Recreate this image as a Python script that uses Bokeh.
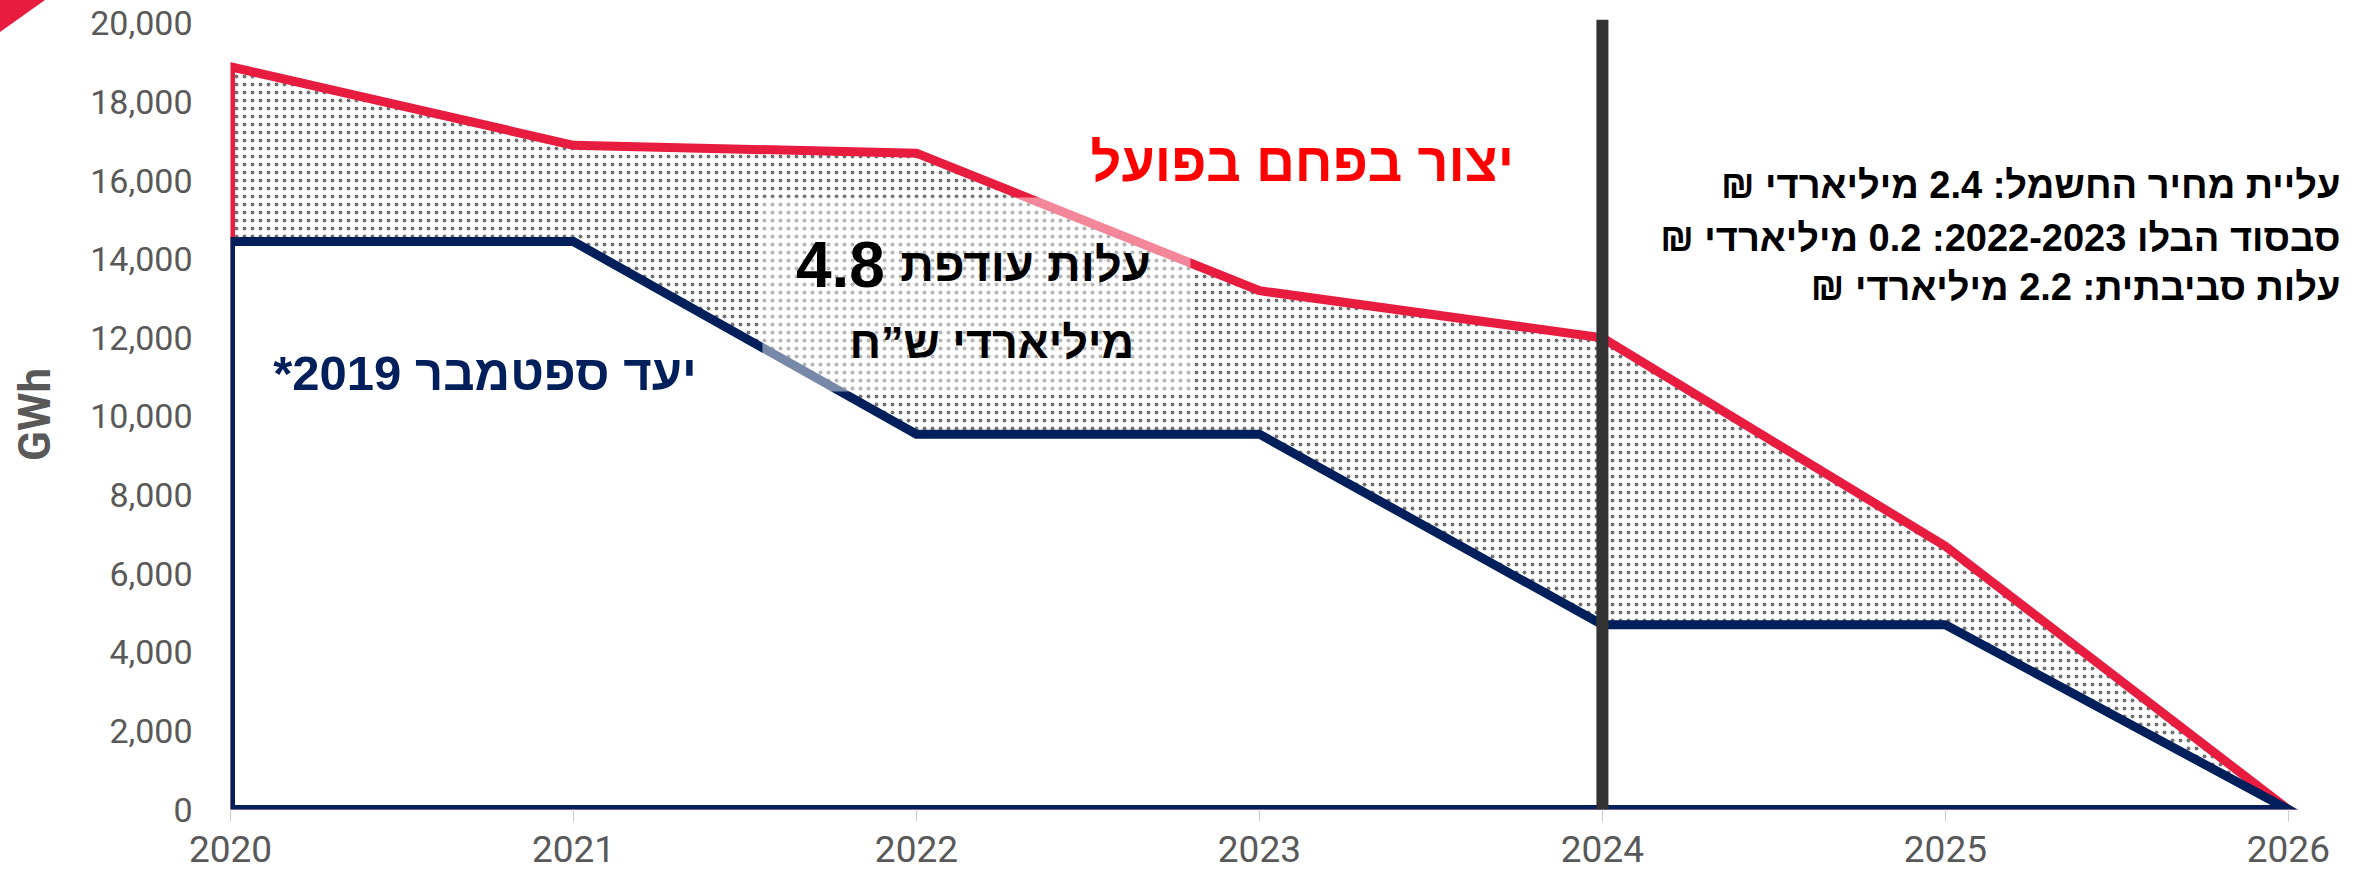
from bokeh.plotting import figure
from bokeh.models import (Range1d, FixedTicker, NumeralTickFormatter, Span, Label,
                          BoxAnnotation, InlineStyleSheet)
from bokeh.embed import file_html
from bokeh.resources import INLINE

# ---------------- data ----------------
years = [2020, 2021, 2022, 2023, 2024, 2025, 2026]
actual_coal = [18900, 16900, 16700, 13200, 12000, 6700, 0]      # יצור בפחם בפועל
target_2019 = [14450, 14450, 9550, 9550, 4700, 4700, 0]          # יעד ספטמבר 2019
y_ticks = [0, 2000, 4000, 6000, 8000, 10000, 12000, 14000, 16000, 18000, 20000]
x_ticks = years

label_actual = "יצור בפחם בפועל"
label_target = "יעד ספטמבר 2019*"
label_extra_num = "4.8"
label_extra_1 = "עלות עודפת"
label_extra_2 = "מיליארדי ש”ח"
notes = ["עליית מחיר החשמל: 2.4 מיליארדי ₪",
         "סבסוד הבלו 2022-2023: 0.2 מיליארדי ₪",
         "עלות סביבתית: 2.2 מיליארדי ₪"]
y_title = "GWh"

# ---------------- style ----------------
RED = "#E81C3F"
TITLE_RED = "#FF0000"
NAVY = "#001F5B"
GREY = "#595959"
HEB = "Liberation Sans"
RLM = "\u200F"

corner = InlineStyleSheet(css="""
:host { overflow: visible !important; }
:host::after { content: ''; position: absolute; left: 0px; top: 0px; width: 0; height: 0;
  border-top: 32px solid #E81C3F; border-right: 45px solid transparent;
  z-index: 10; pointer-events: none; }
""")

p = figure(width=2360, height=879, output_backend="svg", toolbar_location=None,
           x_range=Range1d(2020, 2026.187), y_range=Range1d(0, 20100),
           min_border_left=230, min_border_right=8, min_border_top=19, min_border_bottom=70)
p.stylesheets = [corner]
p.background_fill_color = "white"
p.border_fill_color = "white"
p.outline_line_color = None
p.xgrid.grid_line_color = None
p.ygrid.grid_line_color = None

# dotted area under actual production
p.varea(x=years, y1=0, y2=actual_coal, fill_color="white",
        hatch_pattern="dot", hatch_color="black", hatch_alpha=0.55, hatch_scale=8)

# outline of the actual-production area
xs_a = [years[0]] + years + [years[-1]]
p.patch(xs_a, [0] + actual_coal + [0], fill_alpha=0, line_color=RED, line_width=9,
        line_join="miter")

# target area (white, navy outline) on top
p.patch(xs_a, [0] + target_2019 + [0], fill_color="white", line_color=NAVY, line_width=9,
        line_join="miter")

# translucent box behind the central text
p.add_layout(BoxAnnotation(left=2021.551, right=2022.799, bottom=10635, top=15571,
                           fill_color="white", fill_alpha=0.47, line_alpha=0))

# vertical marker at 2024
p.add_layout(Span(location=2024, dimension="height", line_color="#333333", line_width=12))

# ---------------- axes ----------------
p.xaxis.ticker = FixedTicker(ticks=x_ticks)
p.yaxis.ticker = FixedTicker(ticks=y_ticks)
p.yaxis.formatter = NumeralTickFormatter(format="0,0")
p.xaxis.major_label_text_font = "Roboto"
p.yaxis.major_label_text_font = "Roboto"
p.xaxis.major_label_text_font_size = "37px"
p.yaxis.major_label_text_font_size = "34px"
p.xaxis.major_label_text_color = GREY
p.yaxis.major_label_text_color = GREY
p.xaxis.axis_line_color = None
p.xaxis.major_tick_line_color = "#cccccc"
p.xaxis.major_tick_in = 0
p.xaxis.major_tick_out = 12
p.xaxis.minor_tick_line_color = None
p.xaxis.major_label_standoff = 14
p.yaxis.axis_line_color = None
p.yaxis.major_tick_line_color = None
p.yaxis.minor_tick_line_color = None
p.yaxis.major_tick_out = 0
p.yaxis.major_label_standoff = 38
p.yaxis.axis_label = y_title
p.yaxis.axis_label_text_font = "Roboto"
p.yaxis.axis_label_text_font_style = "bold"
p.yaxis.axis_label_text_font_size = "44px"
p.yaxis.axis_label_text_color = GREY
p.yaxis.axis_label_standoff = 26

# ---------------- texts ----------------
def lab(x, y, text, size, color, align="center", baseline="middle"):
    p.add_layout(Label(x=x, y=y, text=text, text_font=HEB, text_font_style="bold",
                       text_font_size=size, text_color=color, text_align=align,
                       text_baseline=baseline))

lab(2023.125, 16462, label_actual, "54px", TITLE_RED)
lab(2020.742, 11106, label_target + RLM, "49px", NAVY)
lab(2021.908, 13867, label_extra_num, "64px", "black", align="right", baseline="alphabetic")
lab(2021.953, 13867, label_extra_1, "47px", "black", align="left", baseline="alphabetic")
lab(2022.22, 11882, label_extra_2, "45px", "black", baseline="alphabetic")
for yv, t in zip([15887, 14528, 13294], notes):
    lab(2026.152, yv, t + RLM, "38px", "black", align="right")

open("out.html", "w").write(file_html(p, INLINE))
